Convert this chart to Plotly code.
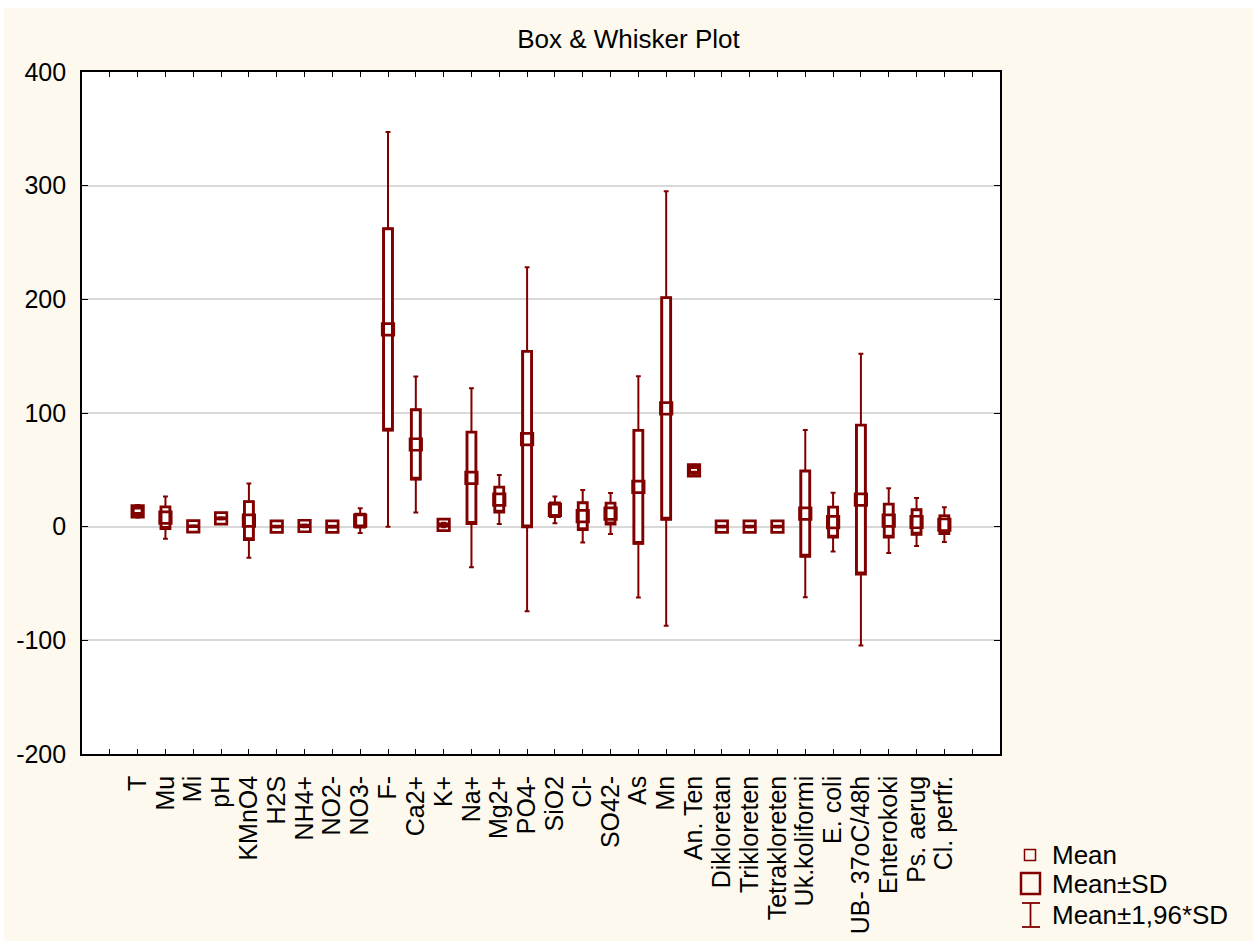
import plotly.graph_objects as go

categories = ["T", "Mu", "Mi", "pH", "KMnO4", "H2S", "NH4+", "NO2-", "NO3-", "F-",
              "Ca2+", "K+", "Na+", "Mg2+", "PO4-", "SiO2", "Cl-", "SO42-", "As", "Mn",
              "An. Ten", "Dikloretan", "Trikloreten", "Tetrakloreten", "Uk.koliformi",
              "E. coli", "UB- 37oC/48h", "Enterokoki", "Ps. aerug", "Cl. perfr."]
means = [13.5, 7.9, 0.3, 7.3, 5.3, 0.1, 0.6, 0.05, 5.3, 173.5,
         72.3, 1.5, 43.0, 23.8, 77.0, 14.8, 9.2, 11.5, 35.0, 104.0,
         49.5, 0.1, 0.1, 0.1, 11.5, 4.0, 23.8, 5.3, 4.1, 1.7]
sds = [2.8, 9.5, 0.3, 0.4, 16.7, 0.3, 0.6, 0.3, 5.6, 88.6,
       30.5, 1.0, 40.2, 11.0, 77.2, 6.0, 11.8, 9.2, 49.7, 97.5,
       2.5, 0.3, 0.3, 0.3, 37.5, 13.2, 65.5, 14.5, 10.8, 7.8]
y_ticks = [-200, -100, 0, 100, 200, 300, 400]
y_tick_text = ["-200", "-100", "0", "100", "200", "300", "400"]
legend_labels = ["Mean", "Mean±SD", "Mean±1,96*SD"]

COL = "#800000"
FONT = "Liberation Sans, Arial, sans-serif"
idx = list(range(len(categories)))
q1 = [m - s for m, s in zip(means, sds)]
q3 = [m + s for m, s in zip(means, sds)]
lo = [m - 1.96 * s for m, s in zip(means, sds)]
hi = [m + 1.96 * s for m, s in zip(means, sds)]

fig = go.Figure()
# whiskers (Mean ± 1.96*SD)
fig.add_trace(go.Box(x=idx, q1=q1, median=q1, q3=q3, lowerfence=lo, upperfence=hi,
                     width=0.32, whiskerwidth=0.55, fillcolor="white",
                     line=dict(color=COL, width=2), boxpoints=False,
                     showlegend=False, hoverinfo="skip"))
# boxes (Mean ± SD)
fig.add_trace(go.Box(x=idx, q1=q1, median=q1, q3=q3, lowerfence=q1, upperfence=q3,
                     width=0.32, whiskerwidth=0.0, fillcolor="white",
                     line=dict(color=COL, width=2.9), boxpoints=False,
                     showlegend=False, hoverinfo="skip"))
# means
fig.add_trace(go.Scatter(x=idx, y=means, mode="markers",
                         marker=dict(symbol="square-open", size=11.5, color=COL,
                                     line=dict(width=2.7, color=COL)),
                         showlegend=False))

# pixel -> paper helpers (plot area 82..1000 x, 72..754 y)
L, R, T, B = 82, 1000, 72, 754
def px(x):
    return (x - L) / (R - L)
def py(y):
    return (B - y) / (B - T)

shapes = []
# white frame strips at the image edges
for (x0, y0, x1, y1) in [(0, 0, 1257, 8), (0, 0, 4, 941), (1253, 0, 1257, 941)]:
    shapes.append(dict(type="rect", xref="paper", yref="paper", x0=px(x0), x1=px(x1),
                       y0=py(y0), y1=py(y1), fillcolor="white", line=dict(width=0),
                       layer="above"))
# legend icons
shapes.append(dict(type="rect", xref="paper", yref="paper", x0=px(1024.5), x1=px(1035.5),
                   y0=py(860.5), y1=py(849.5), line=dict(color=COL, width=1.5)))
shapes.append(dict(type="rect", xref="paper", yref="paper", x0=px(1021), x1=px(1040),
                   y0=py(894), y1=py(873), line=dict(color=COL, width=2.5)))
shapes.append(dict(type="line", xref="paper", yref="paper", x0=px(1030.5), x1=px(1030.5),
                   y0=py(903), y1=py(927), line=dict(color=COL, width=1.8)))
shapes.append(dict(type="line", xref="paper", yref="paper", x0=px(1022), x1=px(1040),
                   y0=py(903), y1=py(903), line=dict(color=COL, width=1.8)))
shapes.append(dict(type="line", xref="paper", yref="paper", x0=px(1022), x1=px(1040),
                   y0=py(927), y1=py(927), line=dict(color=COL, width=1.8)))

annotations = []
for lab, yy in zip(legend_labels, [855, 884, 915]):
    annotations.append(dict(text=lab, xref="paper", yref="paper", x=px(1050), y=py(yy),
                            xanchor="left", yanchor="middle", showarrow=False,
                            font=dict(family=FONT, size=26, color="black")))

fig.update_layout(
    width=1257, height=941,
    margin=dict(l=L, r=1257 - R, t=T, b=941 - B, autoexpand=False),
    paper_bgcolor="#fdf9ee", plot_bgcolor="white",
    boxmode="overlay",
    showlegend=False,
    title=dict(text="Box & Whisker Plot", x=0.5, xref="container", y=1 - 39 / 941,
               yref="container", xanchor="center", yanchor="middle",
               font=dict(family=FONT, size=26, color="black")),
    font=dict(family=FONT, size=25, color="black"),
    shapes=shapes, annotations=annotations,
)
fig.update_xaxes(range=[-2, 31], tickmode="array", tickvals=list(range(-1, 31)),
                 ticktext=[""] + categories + [""], tickangle=-90, automargin=False,
                 ticks="inside", ticklen=5, tickwidth=1.3, tickcolor="black",
                 showline=True, linecolor="black", linewidth=1.6, mirror="ticks",
                 showgrid=False, zeroline=False, ticklabelstandoff=10,
                 tickfont=dict(family=FONT, size=25, color="black"))
fig.update_yaxes(range=[-200, 400], tickmode="array", tickvals=y_ticks,
                 ticktext=y_tick_text, automargin=False,
                 ticks="inside", ticklen=6, tickwidth=1.3, tickcolor="black",
                 showline=True, linecolor="black", linewidth=1.6, mirror="ticks",
                 showgrid=True, gridcolor="#d9d9d9", gridwidth=1.5, zeroline=False,
                 ticklabelstandoff=9,
                 tickfont=dict(family=FONT, size=25, color="black"))

fig.write_html("out.html", config={"displayModeBar": False},
               post_script="document.body.style.margin='0';document.body.style.overflow='hidden';")
